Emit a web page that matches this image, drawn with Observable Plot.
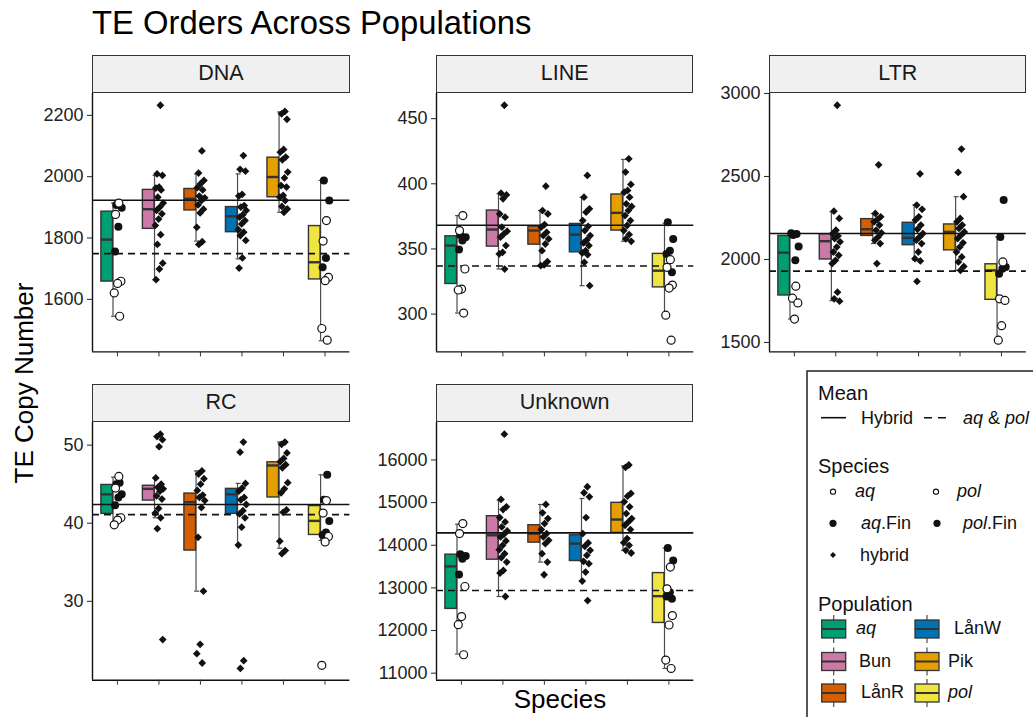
<!DOCTYPE html>
<html><head><meta charset="utf-8">
<script src="https://cdn.jsdelivr.net/npm/d3@7"></script>
<script src="https://cdn.jsdelivr.net/npm/@observablehq/plot@0.6"></script>
<style>
body{margin:0;width:1033px;height:717px;overflow:hidden;background:#fff;font-family:"Liberation Sans",Arial,Helvetica,sans-serif;position:relative}
.strip{position:absolute;box-sizing:border-box;background:#f0f0f0;border:1px solid #333;font-size:21.5px;color:#1a1a1a;display:flex;align-items:center;justify-content:center}
.panel{position:absolute}
</style></head><body>
<script>
// ---------- data ----------
const populations = ["aq", "Bun", "LånR", "LånW", "Pik", "pol"];
const popColors = ["#009E73", "#CC79A7", "#D55E00", "#0072B2", "#E69F00", "#F0E442"];
const panelNames = ["DNA", "LINE", "LTR", "RC", "Unknown"];
const meanHybrid = [1923, 368.2, 2156, 42.4, 14289];
const meanParental = [1749, 336.9, 1930, 41.1, 12939];

// tick labels
const DNA_ticks = [1600, 1800, 2000, 2200];
const LINE_ticks = [300, 350, 400, 450];
const LTR_ticks = [1500, 2000, 2500, 3000];
const RC_ticks = [30, 40, 50];
const Unknown_ticks = [11000, 12000, 13000, 14000, 15000, 16000];

// box stats per population: [lower whisker, q1, median, q3, upper whisker]
const DNA_box = [[1545,1658,1795,1886,1914],[1664,1830,1894,1957,2004],[1790,1890,1928,1960,2009],[1732,1819,1871,1901,2009],[1884,1933,1999,2062,2211],[1465,1665,1721,1839,1988]];
const LINE_box = [[300.8,323.1,352.6,359.7,375.6],[334.6,351.8,364.9,379.5,392.3],[337.2,353.3,364.1,367.2,379.5],[321.8,347.4,361,369.2,389.7],[355.9,364.1,377.7,391.8,418.7],[299.2,320.5,333.3,346.2,369.7]];
const LTR_box = [[1641,1783,2041,2142,2156],[1752,2000,2110,2152,2287],[2096,2142,2182,2243,2277],[1995,2086,2130,2221,2328],[1934,2055,2166,2211,2378],[1514,1757,1934,1971,2136]];
const RC_box = [[39.8,41.2,43.7,44.9,45.9],[40.7,42.9,44.4,44.8,45.8],[31.3,36.5,42.7,43.8,46.7],[37.2,41.2,43.7,44.4,45.1],[36.8,43.3,47.4,47.8,50.4],[37.8,38.5,40.3,42.2,46.2]];
const Unknown_box = [[11448,12507,13504,13779,14493],[12798,13661,14234,14681,15058],[13606,14061,14273,14469,14956],[13159,13630,14038,14234,15097],[13881,14289,14603,14995,15859],[11110,12178,12806,13347,13936]];

// points
const DNA_aq = [1914, 1877, 1659, 1652, 1621, 1545];
const DNA_aqFin = [1908, 1899, 1837, 1756];
const DNA_Bun = [2233, 2009, 2004, 1966, 1963, 1957, 1933, 1914, 1901, 1890, 1879, 1862, 1841, 1811, 1779, 1718, 1699, 1664];
const DNA_LanR = [2084, 2012, 1988, 1977, 1964, 1957, 1937, 1931, 1922, 1908, 1894, 1882, 1835, 1788, 1779];
const DNA_LanW = [2069, 2024, 2018, 1942, 1937, 1906, 1901, 1890, 1876, 1868, 1857, 1846, 1827, 1819, 1808, 1792, 1735, 1702];
const DNA_Pik = [2213, 2205, 2187, 2089, 2080, 2064, 2055, 2015, 1996, 1971, 1966, 1939, 1933, 1922, 1903, 1895, 1884];
const DNA_pol = [1857, 1790, 1672, 1661, 1505, 1467];
const DNA_polFin = [1988, 1922, 1735, 1705];

const LINE_aq = [375.6, 364.1, 334.6, 319.2, 318.5, 300.8];
const LINE_aqFin = [360.8, 359, 356.4, 349.5];
const LINE_Bun = [460.3, 392.8, 391.5, 388.5, 376.9, 374.4, 366.7, 363.6, 361.5, 359, 352.6, 347.4, 346.2, 334.6];
const LINE_LanR = [398.2, 379.5, 376.9, 368.7, 366.7, 362.8, 360.3, 357.7, 353.8, 348.7, 340.3, 337.7, 337.2];
const LINE_LanW = [406.4, 389.7, 380.8, 378.2, 371.8, 367.4, 364.1, 360.3, 356.9, 354.6, 352.6, 348.7, 346.9, 345.6, 339.7, 321.8];
const LINE_Pik = [419.2, 409, 399.5, 394.9, 393.6, 389.7, 384.6, 382.6, 379.5, 375.6, 371.8, 368, 364.1, 361, 357.7, 355.9];
const LINE_pol = [341.8, 335.9, 322.3, 320.0, 299.2, 280];
const LINE_polFin = [370.5, 357.7, 348.7, 346.2, 332.1];

const LTR_aq = [1839, 1767, 1738, 1641];
const LTR_aqFin = [2158, 2153, 2148, 2078, 1995];
const LTR_Bun = [2929, 2291, 2247, 2176, 2156, 2142, 2126, 2106, 2075, 2045, 2025, 1995, 1975, 1803, 1763, 1749];
const LTR_LanR = [2570, 2277, 2257, 2241, 2227, 2207, 2176, 2160, 2136, 2116, 2096, 1975];
const LTR_LanW = [2516, 2328, 2302, 2257, 2237, 2207, 2182, 2156, 2136, 2116, 2096, 2045, 2005, 1991, 1868];
const LTR_Pik = [2665, 2524, 2378, 2247, 2227, 2207, 2187, 2166, 2146, 2126, 2100, 2075, 2045, 2015, 1985, 1958, 1934];
const LTR_pol = [1985, 1763, 1753, 1601, 1514];
const LTR_polFin = [2358, 2136, 1954, 1944, 1914];

const RC_aq = [46.0, 44.5, 40.7, 40.4, 39.8];
const RC_aqFin = [45.2, 45.0, 43.7, 43.3, 42.3];
const RC_Bun = [51.4, 51.1, 50.7, 49.8, 45.8, 45.0, 44.6, 44.4, 44.1, 43.5, 43.1, 41.9, 41.3, 40.7, 39.3, 25.1];
const RC_LanR = [46.7, 46.3, 45.7, 45.0, 44.2, 43.6, 43.3, 42.9, 42.0, 38.2, 31.3, 24.5, 23.3, 22.1];
const RC_LanW = [50.4, 49.1, 45.1, 44.5, 44.1, 43.3, 43.0, 42.4, 41.6, 41.2, 40.7, 39.5, 37.2, 22.4, 21.4];
const RC_Pik = [50.4, 50.1, 49.0, 48.3, 47.9, 47.5, 47.1, 45.2, 44.4, 43.9, 41.7, 41.4, 37.7, 36.5, 36.1];
const RC_pol = [42.9, 41.3, 38.3, 37.6, 21.8];
const RC_polFin = [46.2, 43.0, 40.3, 38.8, 38.5];

const Unknown_aq = [14509, 14273, 13033, 12327, 12138, 11432];
const Unknown_aqFin = [13787, 13747, 13685, 13316];
const Unknown_Bun = [16604, 15074, 14901, 14838, 14650, 14548, 14430, 14336, 14258, 14195, 14101, 13999, 13896, 13802, 13708, 13606, 13410, 13347, 12798];
const Unknown_LanR = [14956, 14760, 14626, 14509, 14367, 14273, 14195, 14116, 14038, 13802, 13606, 13308];
const Unknown_LanW = [15372, 15231, 15137, 14650, 14273, 14054, 13975, 13881, 13763, 13622, 13567, 13371, 13159, 12703];
const Unknown_Pik = [15882, 15827, 15215, 15152, 15019, 14901, 14744, 14626, 14548, 14469, 14367, 14156, 14061, 13999, 13881, 13818];
const Unknown_pol = [13488, 12978, 12350, 12130, 11306, 11110];
const Unknown_polFin = [13936, 13645, 12900, 12798, 12743];

const panelData = [
  {box: DNA_box, ticks: DNA_ticks, groups: [DNA_aq, DNA_aqFin, DNA_Bun, DNA_LanR, DNA_LanW, DNA_Pik, DNA_pol, DNA_polFin]},
  {box: LINE_box, ticks: LINE_ticks, groups: [LINE_aq, LINE_aqFin, LINE_Bun, LINE_LanR, LINE_LanW, LINE_Pik, LINE_pol, LINE_polFin]},
  {box: LTR_box, ticks: LTR_ticks, groups: [LTR_aq, LTR_aqFin, LTR_Bun, LTR_LanR, LTR_LanW, LTR_Pik, LTR_pol, LTR_polFin]},
  {box: RC_box, ticks: RC_ticks, groups: [RC_aq, RC_aqFin, RC_Bun, RC_LanR, RC_LanW, RC_Pik, RC_pol, RC_polFin]},
  {box: Unknown_box, ticks: Unknown_ticks, groups: [Unknown_aq, Unknown_aqFin, Unknown_Bun, Unknown_LanR, Unknown_LanW, Unknown_Pik, Unknown_pol, Unknown_polFin]}
];
// group -> [population index, species kind]
const groupMeta = [[0,"open"],[0,"filled"],[1,"hyb"],[2,"hyb"],[3,"hyb"],[4,"hyb"],[5,"open"],[5,"filled"]];

// ---------- layout ----------
const FONT = '"Liberation Sans", Arial, Helvetica, sans-serif';
const layout = [
  {left: 92.3, top: 93.3, w: 257.4, h: 258.4},
  {left: 436, top: 93.3, w: 257.3, h: 258.4},
  {left: 769.4, top: 93.3, w: 256.8, h: 258.4},
  {left: 92.3, top: 422.3, w: 257.4, h: 257.7},
  {left: 436, top: 422.3, w: 257.3, h: 257.7}
];
const STRIP_H = 38.7;
const ML = 70, MR = 4, MT = 4, MB = 12;
const BX1 = -0.386, BX2 = -0.106, WH = -0.106;
const jit = k => (((k + 1) * 0.6180339887) % 1 - 0.5) * 0.21 + 0.01;

function drawPanel(idx) {
  const cfg = layout[idx], dat = panelData[idx];
  const pts = [];
  const counters = [0,0,0,0,0,0];
  dat.groups.forEach((vals, g) => {
    const [i, kind] = groupMeta[g];
    vals.forEach(v => { const k = counters[i]++; pts.push({i, kind, v, x: i + jit(k)}); });
  });
  const [mn, mx] = d3.extent(pts, d => d.v);
  const pad = (mx - mn) * 0.05;
  const dom = [mn - pad, mx + pad];
  const boxes = populations.map((p, i) => ({i, pop: p, lo: dat.box[i][0], q1: dat.box[i][1], med: dat.box[i][2], q3: dat.box[i][3], hi: dat.box[i][4]}));
  const chart = Plot.plot({
    width: ML + cfg.w + MR, height: MT + cfg.h + MB,
    marginLeft: ML, marginRight: MR, marginTop: MT, marginBottom: MB,
    x: {domain: [-0.6, 5.6], label: null},
    y: {domain: dom, label: null},
    color: {domain: populations, range: popColors},
    style: {fontFamily: FONT, background: "transparent", overflow: "visible"},
    marks: [
      Plot.ruleX(boxes, {x: d => d.i + WH, y1: "lo", y2: "hi", stroke: "#4d4d4d", strokeWidth: 1.2}),
      Plot.ruleY(boxes, {x1: d => d.i + WH - 0.035, x2: d => d.i + WH + 0.085, y: "lo", stroke: "#4d4d4d", strokeWidth: 1.2}),
      Plot.ruleY(boxes, {x1: d => d.i + WH - 0.035, x2: d => d.i + WH + 0.085, y: "hi", stroke: "#4d4d4d", strokeWidth: 1.2}),
      Plot.rect(boxes, {x1: d => d.i + BX1, x2: d => d.i + BX2, y1: "q1", y2: "q3", fill: "pop", stroke: "#333", strokeWidth: 1.4}),
      Plot.ruleY(boxes, {x1: d => d.i + BX1, x2: d => d.i + BX2, y: "med", stroke: "#333", strokeWidth: 2.4}),
      Plot.ruleY([meanHybrid[idx]], {stroke: "#111", strokeWidth: 1.6}),
      Plot.ruleY([meanParental[idx]], {stroke: "#111", strokeWidth: 1.6, strokeDasharray: "7,5"}),
      Plot.dot(pts.filter(d => d.kind === "hyb"), {x: "x", y: "v", symbol: "diamond2", r: 3.5, fill: "#111", stroke: "none"}),
      Plot.dot(pts.filter(d => d.kind === "filled"), {x: "x", y: "v", r: 4, fill: "#111", stroke: "none"}),
      Plot.dot(pts.filter(d => d.kind === "open"), {x: "x", y: "v", r: 4, fill: "white", stroke: "#111", strokeWidth: 1.2}),
      Plot.ruleX([-0.6], {stroke: "#111", strokeWidth: 1.4}),
      Plot.ruleY([dom[0]], {stroke: "#111", strokeWidth: 1.4}),
      Plot.axisY({ticks: dat.ticks, tickFormat: d => String(d), tickSize: 5, tickPadding: 4, fontSize: 18, color: "#222", label: null}),
      Plot.axisX({ticks: [0,1,2,3,4,5], tickFormat: () => "", tickSize: 5, color: "#333", label: null})
    ]
  });
  chart.classList.add("panel");
  chart.style.left = (cfg.left - ML) + "px";
  chart.style.top = (cfg.top - MT) + "px";
  document.body.appendChild(chart);
  const strip = document.createElement("div");
  strip.className = "strip";
  strip.textContent = panelNames[idx];
  Object.assign(strip.style, {left: cfg.left + "px", top: (cfg.top - STRIP_H) + "px", width: cfg.w + "px", height: STRIP_H + "px"});
  document.body.appendChild(strip);
}

// ---------- overlay: titles and legend ----------
const svg = d3.select("body").append("svg")
  .attr("width", 1033).attr("height", 717)
  .style("position", "absolute").style("left", 0).style("top", 0)
  .style("font-family", FONT);

function txt(x, y, parts, size, opts = {}) {
  const t = svg.append("text").attr("x", x).attr("y", y).attr("font-size", size).attr("fill", opts.fill || "#111");
  if (opts.anchor) t.attr("text-anchor", opts.anchor);
  if (opts.central) t.attr("dy", "0.35em");
  if (opts.transform) t.attr("transform", opts.transform);
  parts.forEach(p => {
    const [s, it] = Array.isArray(p) ? p : [p, false];
    t.append("tspan").attr("font-style", it ? "italic" : "normal").text(s);
  });
  return t;
}

txt(92, 34, ["TE Orders Across Populations"], 32.8, {fill: "#000"});
txt(0, 0, ["TE Copy Number"], 26, {anchor: "middle", transform: "translate(33,383) rotate(-90)", fill: "#000"});
txt(560, 708, ["Species"], 26, {anchor: "middle", fill: "#000"});

// legend box
svg.append("rect").attr("x", 807).attr("y", 371).attr("width", 300).attr("height", 400)
  .attr("fill", "white").attr("stroke", "#222").attr("stroke-width", 1.5);

// Mean
txt(818, 400, ["Mean"], 20);
svg.append("line").attr("x1", 821).attr("x2", 846).attr("y1", 417.7).attr("y2", 417.7).attr("stroke", "#111").attr("stroke-width", 1.6);
txt(861, 417.7, ["Hybrid"], 18, {central: true});
svg.append("line").attr("x1", 924).attr("x2", 947).attr("y1", 417.7).attr("y2", 417.7).attr("stroke", "#111").attr("stroke-width", 1.6).attr("stroke-dasharray", "8,6");
txt(963, 417.7, [["aq", true], " & ", ["pol", true]], 18, {central: true});

// Species
txt(818, 473.3, ["Species"], 20);
svg.append("circle").attr("cx", 833).attr("cy", 491.7).attr("r", 2.6).attr("fill", "white").attr("stroke", "#111").attr("stroke-width", 1.1);
txt(855, 490.5, [["aq", true]], 18, {central: true});
svg.append("circle").attr("cx", 936).attr("cy", 491.7).attr("r", 2.6).attr("fill", "white").attr("stroke", "#111").attr("stroke-width", 1.1);
txt(957, 490.5, [["pol", true]], 18, {central: true});
svg.append("circle").attr("cx", 833).attr("cy", 523.3).attr("r", 3.6).attr("fill", "#111");
txt(861, 522.5, [["aq", true], ".Fin"], 18, {central: true});
svg.append("circle").attr("cx", 937).attr("cy", 523.3).attr("r", 3.6).attr("fill", "#111");
txt(963, 522.5, [["pol", true], ".Fin"], 18, {central: true});
svg.append("path").attr("d", d3.symbol(d3.symbolDiamond2, 22)()).attr("transform", "translate(833,555)").attr("fill", "#111");
txt(860, 554.5, ["hybrid"], 18, {central: true});

// Population
txt(818, 610.7, ["Population"], 20);
const popKeys = [
  {i: 0, cx: 833.7, cy: 629, lx: 856, it: true},
  {i: 1, cx: 833.7, cy: 661.5, lx: 859, it: false},
  {i: 2, cx: 833.7, cy: 693, lx: 861, it: false},
  {i: 3, cx: 927, cy: 629, lx: 954, it: false},
  {i: 4, cx: 927, cy: 661.5, lx: 948, it: false},
  {i: 5, cx: 927, cy: 693, lx: 948, it: true}
];
popKeys.forEach(k => {
  svg.append("line").attr("x1", k.cx).attr("x2", k.cx).attr("y1", k.cy - 14).attr("y2", k.cy + 14).attr("stroke", "#4d4d4d").attr("stroke-width", 1.2);
  svg.append("rect").attr("x", k.cx - 12).attr("y", k.cy - 9).attr("width", 24).attr("height", 18).attr("fill", popColors[k.i]).attr("stroke", "#333").attr("stroke-width", 1.3);
  svg.append("line").attr("x1", k.cx - 12).attr("x2", k.cx + 12).attr("y1", k.cy).attr("y2", k.cy).attr("stroke", "#333").attr("stroke-width", 2);
  txt(k.lx, k.cy - 1, [[populations[k.i], k.it]], 18, {central: true});
});

panelNames.forEach((_, i) => drawPanel(i));
</script>
</body></html>
